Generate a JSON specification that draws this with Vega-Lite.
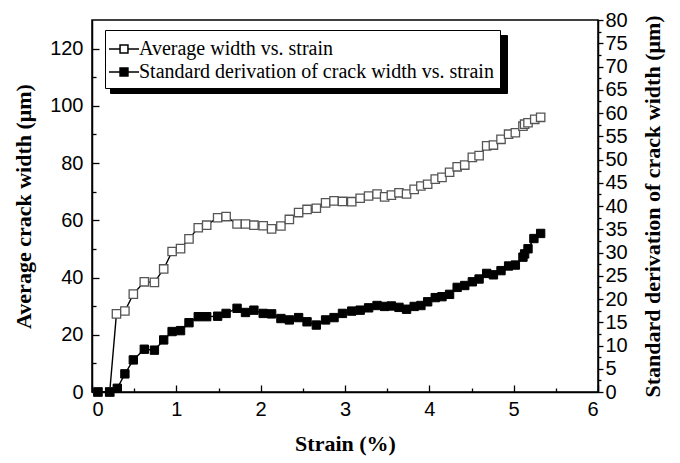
{
  "$schema": "https://vega.github.io/schema/vega-lite/v6.json",
  "width": 506,
  "height": 372,
  "autosize": "none",
  "padding": {"left": 92, "top": 20, "right": 82, "bottom": 71},
  "background": "white",
  "config": {
    "view": {"stroke": "black", "strokeWidth": 1.5},
    "axis": {
      "grid": false,
      "domainColor": "black",
      "domainWidth": 1.5,
      "tickColor": "black",
      "tickWidth": 1.3,
      "labelFont": "Liberation Sans",
      "labelFontSize": 20,
      "labelColor": "black",
      "titleFont": "Liberation Serif",
      "titleFontSize": 22,
      "titleFontWeight": "bold",
      "titleColor": "black"
    },
    "legend": {
      "labelFont": "Liberation Serif",
      "labelFontSize": 20,
      "labelColor": "black",
      "labelLimit": 0
    }
  },
  "data": {
    "values": [
      {"strain": 0.07, "value": 0, "series": "Average width vs. strain"},
      {"strain": 0.21, "value": 0, "series": "Average width vs. strain"},
      {"strain": 0.29, "value": 27.3, "series": "Average width vs. strain"},
      {"strain": 0.39, "value": 28.3, "series": "Average width vs. strain"},
      {"strain": 0.49, "value": 34.2, "series": "Average width vs. strain"},
      {"strain": 0.62, "value": 38.5, "series": "Average width vs. strain"},
      {"strain": 0.74, "value": 38.3, "series": "Average width vs. strain"},
      {"strain": 0.85, "value": 43.0, "series": "Average width vs. strain"},
      {"strain": 0.95, "value": 49.1, "series": "Average width vs. strain"},
      {"strain": 1.05, "value": 50.1, "series": "Average width vs. strain"},
      {"strain": 1.15, "value": 53.5, "series": "Average width vs. strain"},
      {"strain": 1.26, "value": 57.4, "series": "Average width vs. strain"},
      {"strain": 1.36, "value": 58.3, "series": "Average width vs. strain"},
      {"strain": 1.49, "value": 60.9, "series": "Average width vs. strain"},
      {"strain": 1.59, "value": 61.3, "series": "Average width vs. strain"},
      {"strain": 1.72, "value": 58.7, "series": "Average width vs. strain"},
      {"strain": 1.82, "value": 58.7, "series": "Average width vs. strain"},
      {"strain": 1.92, "value": 58.3, "series": "Average width vs. strain"},
      {"strain": 2.03, "value": 58.1, "series": "Average width vs. strain"},
      {"strain": 2.13, "value": 57.0, "series": "Average width vs. strain"},
      {"strain": 2.24, "value": 58.0, "series": "Average width vs. strain"},
      {"strain": 2.34, "value": 60.3, "series": "Average width vs. strain"},
      {"strain": 2.45, "value": 62.7, "series": "Average width vs. strain"},
      {"strain": 2.55, "value": 63.8, "series": "Average width vs. strain"},
      {"strain": 2.66, "value": 64.2, "series": "Average width vs. strain"},
      {"strain": 2.77, "value": 66.1, "series": "Average width vs. strain"},
      {"strain": 2.87, "value": 66.8, "series": "Average width vs. strain"},
      {"strain": 2.97, "value": 66.6, "series": "Average width vs. strain"},
      {"strain": 3.08, "value": 66.5, "series": "Average width vs. strain"},
      {"strain": 3.18, "value": 67.7, "series": "Average width vs. strain"},
      {"strain": 3.28, "value": 68.5, "series": "Average width vs. strain"},
      {"strain": 3.38, "value": 69.2, "series": "Average width vs. strain"},
      {"strain": 3.47, "value": 68.2, "series": "Average width vs. strain"},
      {"strain": 3.55, "value": 68.8, "series": "Average width vs. strain"},
      {"strain": 3.64, "value": 69.6, "series": "Average width vs. strain"},
      {"strain": 3.73, "value": 69.2, "series": "Average width vs. strain"},
      {"strain": 3.82, "value": 70.8, "series": "Average width vs. strain"},
      {"strain": 3.90, "value": 72.0, "series": "Average width vs. strain"},
      {"strain": 3.98, "value": 72.6, "series": "Average width vs. strain"},
      {"strain": 4.07, "value": 74.4, "series": "Average width vs. strain"},
      {"strain": 4.15, "value": 75.0, "series": "Average width vs. strain"},
      {"strain": 4.24, "value": 76.8, "series": "Average width vs. strain"},
      {"strain": 4.33, "value": 78.7, "series": "Average width vs. strain"},
      {"strain": 4.42, "value": 79.3, "series": "Average width vs. strain"},
      {"strain": 4.51, "value": 82.0, "series": "Average width vs. strain"},
      {"strain": 4.59, "value": 82.6, "series": "Average width vs. strain"},
      {"strain": 4.68, "value": 86.0, "series": "Average width vs. strain"},
      {"strain": 4.76, "value": 86.3, "series": "Average width vs. strain"},
      {"strain": 4.85, "value": 88.3, "series": "Average width vs. strain"},
      {"strain": 4.94, "value": 90.1, "series": "Average width vs. strain"},
      {"strain": 5.02, "value": 90.6, "series": "Average width vs. strain"},
      {"strain": 5.11, "value": 92.9, "series": "Average width vs. strain"},
      {"strain": 5.13, "value": 93.6, "series": "Average width vs. strain"},
      {"strain": 5.17, "value": 94.1, "series": "Average width vs. strain"},
      {"strain": 5.25, "value": 95.3, "series": "Average width vs. strain"},
      {"strain": 5.32, "value": 96.0, "series": "Average width vs. strain"},
      {"strain": 0.07, "value": 0, "series": "Standard derivation of crack width vs. strain"},
      {"strain": 0.21, "value": 0, "series": "Standard derivation of crack width vs. strain"},
      {"strain": 0.30, "value": 0.8, "series": "Standard derivation of crack width vs. strain"},
      {"strain": 0.39, "value": 3.9, "series": "Standard derivation of crack width vs. strain"},
      {"strain": 0.49, "value": 6.9, "series": "Standard derivation of crack width vs. strain"},
      {"strain": 0.62, "value": 9.2, "series": "Standard derivation of crack width vs. strain"},
      {"strain": 0.74, "value": 9.0, "series": "Standard derivation of crack width vs. strain"},
      {"strain": 0.85, "value": 11.2, "series": "Standard derivation of crack width vs. strain"},
      {"strain": 0.95, "value": 13.0, "series": "Standard derivation of crack width vs. strain"},
      {"strain": 1.05, "value": 13.2, "series": "Standard derivation of crack width vs. strain"},
      {"strain": 1.15, "value": 14.9, "series": "Standard derivation of crack width vs. strain"},
      {"strain": 1.26, "value": 16.2, "series": "Standard derivation of crack width vs. strain"},
      {"strain": 1.36, "value": 16.2, "series": "Standard derivation of crack width vs. strain"},
      {"strain": 1.49, "value": 16.3, "series": "Standard derivation of crack width vs. strain"},
      {"strain": 1.59, "value": 16.9, "series": "Standard derivation of crack width vs. strain"},
      {"strain": 1.72, "value": 18.0, "series": "Standard derivation of crack width vs. strain"},
      {"strain": 1.82, "value": 17.1, "series": "Standard derivation of crack width vs. strain"},
      {"strain": 1.92, "value": 17.6, "series": "Standard derivation of crack width vs. strain"},
      {"strain": 2.03, "value": 16.9, "series": "Standard derivation of crack width vs. strain"},
      {"strain": 2.13, "value": 16.8, "series": "Standard derivation of crack width vs. strain"},
      {"strain": 2.24, "value": 15.8, "series": "Standard derivation of crack width vs. strain"},
      {"strain": 2.34, "value": 15.5, "series": "Standard derivation of crack width vs. strain"},
      {"strain": 2.45, "value": 16.0, "series": "Standard derivation of crack width vs. strain"},
      {"strain": 2.55, "value": 15.1, "series": "Standard derivation of crack width vs. strain"},
      {"strain": 2.66, "value": 14.4, "series": "Standard derivation of crack width vs. strain"},
      {"strain": 2.77, "value": 15.5, "series": "Standard derivation of crack width vs. strain"},
      {"strain": 2.87, "value": 16.0, "series": "Standard derivation of crack width vs. strain"},
      {"strain": 2.97, "value": 16.9, "series": "Standard derivation of crack width vs. strain"},
      {"strain": 3.08, "value": 17.4, "series": "Standard derivation of crack width vs. strain"},
      {"strain": 3.18, "value": 17.6, "series": "Standard derivation of crack width vs. strain"},
      {"strain": 3.28, "value": 18.1, "series": "Standard derivation of crack width vs. strain"},
      {"strain": 3.38, "value": 18.6, "series": "Standard derivation of crack width vs. strain"},
      {"strain": 3.47, "value": 18.4, "series": "Standard derivation of crack width vs. strain"},
      {"strain": 3.55, "value": 18.5, "series": "Standard derivation of crack width vs. strain"},
      {"strain": 3.64, "value": 18.2, "series": "Standard derivation of crack width vs. strain"},
      {"strain": 3.73, "value": 17.8, "series": "Standard derivation of crack width vs. strain"},
      {"strain": 3.82, "value": 18.4, "series": "Standard derivation of crack width vs. strain"},
      {"strain": 3.90, "value": 18.6, "series": "Standard derivation of crack width vs. strain"},
      {"strain": 3.98, "value": 19.4, "series": "Standard derivation of crack width vs. strain"},
      {"strain": 4.07, "value": 20.3, "series": "Standard derivation of crack width vs. strain"},
      {"strain": 4.15, "value": 20.5, "series": "Standard derivation of crack width vs. strain"},
      {"strain": 4.24, "value": 21.0, "series": "Standard derivation of crack width vs. strain"},
      {"strain": 4.33, "value": 22.5, "series": "Standard derivation of crack width vs. strain"},
      {"strain": 4.42, "value": 22.9, "series": "Standard derivation of crack width vs. strain"},
      {"strain": 4.51, "value": 23.7, "series": "Standard derivation of crack width vs. strain"},
      {"strain": 4.59, "value": 24.3, "series": "Standard derivation of crack width vs. strain"},
      {"strain": 4.68, "value": 25.5, "series": "Standard derivation of crack width vs. strain"},
      {"strain": 4.76, "value": 25.2, "series": "Standard derivation of crack width vs. strain"},
      {"strain": 4.85, "value": 26.1, "series": "Standard derivation of crack width vs. strain"},
      {"strain": 4.94, "value": 27.1, "series": "Standard derivation of crack width vs. strain"},
      {"strain": 5.02, "value": 27.3, "series": "Standard derivation of crack width vs. strain"},
      {"strain": 5.11, "value": 29.0, "series": "Standard derivation of crack width vs. strain"},
      {"strain": 5.13, "value": 29.7, "series": "Standard derivation of crack width vs. strain"},
      {"strain": 5.17, "value": 30.8, "series": "Standard derivation of crack width vs. strain"},
      {"strain": 5.24, "value": 33.0, "series": "Standard derivation of crack width vs. strain"},
      {"strain": 5.32, "value": 34.1, "series": "Standard derivation of crack width vs. strain"}
    ]
  },
  "encoding": {
    "x": {
      "field": "strain",
      "type": "quantitative",
      "scale": {"domain": [0, 6], "nice": false, "zero": false},
      "axis": {
        "title": "Strain (%)",
        "values": [0, 0.5, 1, 1.5, 2, 2.5, 3, 3.5, 4, 4.5, 5, 5.5, 6],
        "labelExpr": "datum.value % 1 === 0 ? format(datum.value, 'd') : ''",
        "tickSize": {"condition": {"test": "datum.value % 1 === 0", "value": -7}, "value": -4},
        "labelPadding": 14,
        "titlePadding": 14
      }
    }
  },
  "layer": [
    {
      "transform": [{"filter": "datum.series === 'Average width vs. strain'"}],
      "encoding": {
        "y": {
          "field": "value",
          "type": "quantitative",
          "scale": {"domain": [0, 130], "nice": false},
          "axis": {
            "orient": "left",
            "title": "Average crack width (\u03bcm)",
            "values": [0, 10, 20, 30, 40, 50, 60, 70, 80, 90, 100, 110, 120],
            "labelExpr": "datum.value % 20 === 0 ? format(datum.value, 'd') : ''",
            "tickSize": {"condition": {"test": "datum.value % 20 === 0", "value": -7}, "value": -4},
            "labelPadding": 16,
            "titlePadding": 14
          }
        }
      },
      "layer": [
        {
          "mark": {"type": "line", "strokeWidth": 1.4},
          "encoding": {
            "color": {
              "field": "series",
              "type": "nominal",
              "scale": {"domain": ["Standard derivation of crack width vs. strain", "Average width vs. strain"], "range": ["black", "black"]},
              "legend": {
                "title": null,
                "orient": "none",
                "legendX": 18,
                "legendY": 15,
                "strokeColor": "black",
                "fillColor": "black",
                "padding": 6,
                "symbolType": "M-1,-0.55H30.8V0.55H-1Z",
                "symbolSize": 576,
                "symbolStrokeColor": "black",
                "symbolFillColor": "black",
                "symbolStrokeWidth": 1,
                "labelExpr": "''",
                "labelOffset": 0,
                "rowPadding": 0
              }
            }
          }
        },
        {
          "mark": {"type": "point", "shape": "square", "size": 70, "filled": true, "stroke": "#555555", "strokeWidth": 1.3, "opacity": 1},
          "encoding": {
            "fill": {
              "field": "series",
              "type": "nominal",
              "scale": {"domain": ["Average width vs. strain", "Standard derivation of crack width vs. strain"], "range": ["white", "black"]},
              "legend": {
                "title": null,
                "orient": "none",
                "legendX": 13,
                "legendY": 10,
                "strokeColor": "black",
                "fillColor": "white",
                "padding": 6,
                "symbolType": "M-1.25,0H-0.33M0.33,0H1.25M-0.33,-0.33H0.33V0.33H-0.33Z",
                "symbolSize": 576,
                "symbolStrokeColor": "black",
                "symbolStrokeWidth": 1.5,
                "labelOffset": 2,
                "rowPadding": 0
              }
            }
          }
        }
      ]
    },
    {
      "transform": [{"filter": "datum.series === 'Standard derivation of crack width vs. strain'"}],
      "encoding": {
        "y": {
          "field": "value",
          "type": "quantitative",
          "scale": {"domain": [0, 80], "nice": false},
          "axis": {
            "orient": "right",
            "title": "Standard derivation of crack width (\u03bcm)",
            "titleAngle": 270,
            "titleBaseline": "top",
            "values": [0, 2.5, 5, 7.5, 10, 12.5, 15, 17.5, 20, 22.5, 25, 27.5, 30, 32.5, 35, 37.5, 40, 42.5, 45, 47.5, 50, 52.5, 55, 57.5, 60, 62.5, 65, 67.5, 70, 72.5, 75, 77.5, 80],
            "labelExpr": "datum.value % 5 === 0 ? format(datum.value, 'd') : ''",
            "tickSize": {"condition": {"test": "datum.value % 5 === 0", "value": 5}, "value": 3},
            "labelPadding": 2,
            "titlePadding": 15
          }
        }
      },
      "layer": [
        {"mark": {"type": "line", "color": "black", "strokeWidth": 1.4}},
        {
          "mark": {"type": "point", "shape": "square", "size": 70, "filled": true, "stroke": "black", "strokeWidth": 1, "opacity": 1},
          "encoding": {
            "fill": {"field": "series", "type": "nominal"}
          }
        }
      ]
    }
  ],
  "resolve": {"scale": {"y": "independent"}}
}
